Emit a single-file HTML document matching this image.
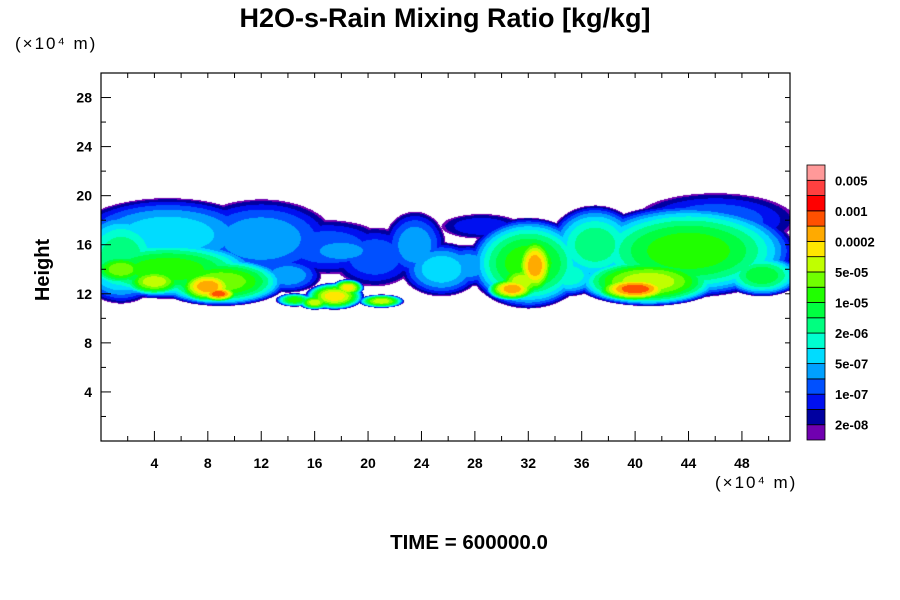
<!DOCTYPE html>
<html><head><meta charset="utf-8"><style>
body{margin:0;background:#fff;width:900px;height:600px;overflow:hidden;font-family:"Liberation Sans",sans-serif}
#wrap{position:relative;width:900px;height:600px}
canvas{position:absolute;left:0;top:0}
svg{position:absolute;left:0;top:0}
</style></head><body><div id="wrap">
<canvas id="cv" width="900" height="600"></canvas>
<svg id="sv" width="900" height="600"></svg>
</div>
<script>
// data
const xTicks=[4,8,12,16,20,24,28,32,36,40,44,48];
const yTicks=[4,8,12,16,20,24,28];
const cbLabels=["0.005","0.001","0.0002","5e-05","1e-05","2e-06","5e-07","1e-07","2e-08"];
const levelColors=["#7000b0","#0000a0","#0010f0","#0050ff","#00a0ff","#00dcff","#00ffd0","#00ff80","#00ff40","#20ff00","#70ff00","#c0ff00","#ffe600","#ffaa00","#ff5000","#ff0000","#ff4040","#ff9999"];
const blobX=[5,12,17,20.5,1.5,5,9,8,8.8,4,1.5,14,18, 14.5,17.5,16,21,18.5, 32,32.5,30.8,25.5,23.5,37,44,46,41,40,49.5,27.5,35,28.5,31.5];
const blobY=[16.8,16.5,15.8,15,15,14,13,12.6,12,13,14,13.5,15.5, 11.5,11.8,11.3,11.4,12.5, 14.5,14.3,12.4,14,16,16,15.5,18,13,12.4,13.5,14.3,13.5,17.5,13];
const blobRX=[7,5.5,4.5,3.2,3.5,7,5,2.4,1.6,2.5,2.5,2.5,3, 1.4,2.2,1.2,1.7,1.2, 4.5,1.6,2,3,2.3,3.5,8,6,5.5,3.2,3,2.5,2.5,3,2];
const blobRY=[3,3.2,2.2,2.4,3.8,2.4,2,1.4,0.7,1.2,1.4,1.4,1.2, 0.55,1.1,0.6,0.55,0.7, 3.7,2.6,1,2.2,2.7,3.2,3.8,2.2,2,1.1,1.7,1.7,1.7,1,1.5];
const blobL=[6,5,4,4,8,10,11,14,15,12,11,5,5, 10,13,12,12,13, 10,14,14,6,5,8,10,4,12,15,9,5,7,3,12];
const X0=0,X1=51.6,Y0=0,Y1=30;
const PL=101,PR=790,PT=73,PB=441;
function sx(v){return PL+(v-X0)/(X1-X0)*(PR-PL);}
function sy(v){return PB-(v-Y0)/(Y1-Y0)*(PB-PT);}
function ix(p){return X0+(p-PL)/(PR-PL)*(X1-X0);}
function iy(p){return Y0+(PB-p)/(PB-PT)*(Y1-Y0);}
// field
const ctx=document.getElementById('cv').getContext('2d');
const img=ctx.createImageData(PR-PL,PB-PT);
const rgb=levelColors.map(c=>[parseInt(c.substr(1,2),16),parseInt(c.substr(3,2),16),parseInt(c.substr(5,2),16)]);
for(let j=0;j<PB-PT;j++){const y=iy(PT+j+0.5);for(let i=0;i<PR-PL;i++){const x=ix(PL+i+0.5);let f=0;
for(let k=0;k<blobX.length;k++){const dx=(x-blobX[k])/blobRX[k],dy=(y-blobY[k])/blobRY[k];const d2=dx*dx+dy*dy;if(d2<1){const v=1+blobL[k]*Math.pow(1-d2,0.65);if(v>f)f=v;}}
const o=(j*(PR-PL)+i)*4;let r=255,g=255,b=255;if(f>=1){const l=Math.min(17,Math.floor(f-1));[r,g,b]=rgb[l];}
img.data[o]=r;img.data[o+1]=g;img.data[o+2]=b;img.data[o+3]=255;}}
ctx.putImageData(img,PL,PT);
// svg
const NS="http://www.w3.org/2000/svg",sv=document.getElementById('sv');
function el(t,a,txt){const e=document.createElementNS(NS,t);for(const k in a)e.setAttribute(k,a[k]);if(txt!==undefined)e.textContent=txt;sv.appendChild(e);return e;}
let e;
e=el('rect',{x:PL,y:PT,width:PR-PL,height:PB-PT,fill:'none',stroke:'#000','stroke-width':1.2});

for(let v=2;v<X1;v+=2){const maj=xTicks.indexOf(v)>=0;const px=sx(v);
e=el('line',{x1:px,x2:px,y1:PB,y2:PB-(maj?10:5),stroke:'#000'});
e=el('line',{x1:px,x2:px,y1:PT,y2:PT+5,stroke:'#000'});}
xTicks.forEach(v=>{e=el('text',{x:sx(v),y:468,'text-anchor':'middle','font-size':14,'font-weight':'bold'},v);});
for(let v=2;v<Y1;v+=2){const maj=yTicks.indexOf(v)>=0;const py=sy(v);
e=el('line',{x1:PL,x2:PL+(maj?10:5),y1:py,y2:py,stroke:'#000'});
e=el('line',{x1:PR,x2:PR-5,y1:py,y2:py,stroke:'#000'});}
yTicks.forEach(v=>{e=el('text',{x:92,y:sy(v)+5,'text-anchor':'end','font-size':14,'font-weight':'bold'},v);});
e=el('text',{x:445,y:27,'text-anchor':'middle','font-size':27,'font-weight':'bold'},'H2O-s-Rain Mixing Ratio [kg/kg]');
e=el('text',{x:15,y:49,'font-size':17,'letter-spacing':'2'},'(×10⁴ m)');
e=el('text',{x:715,y:488,'font-size':17,'letter-spacing':'2'},'(×10⁴ m)');
e=el('text',{x:49,y:270,'text-anchor':'middle','font-size':20,'font-weight':'bold',transform:'rotate(-90 49 270)'},'Height');
e=el('text',{x:469,y:549,'text-anchor':'middle','font-size':20.5,'font-weight':'bold'},'TIME = 600000.0');
// colorbar
const CBT=165,CBB=440,bh=(CBB-CBT)/levelColors.length;
levelColors.forEach((c,i)=>{const y=CBB-(i+1)*bh;e=el('rect',{x:807,y:y,width:18,height:bh,fill:c,stroke:'#000','stroke-width':0.8});});
cbLabels.forEach((t,i)=>{const y=CBT+(i*2+1)*bh;e=el('text',{x:835,y:y+5,'font-size':13,'font-weight':'bold'},t);});
</script></body></html>
